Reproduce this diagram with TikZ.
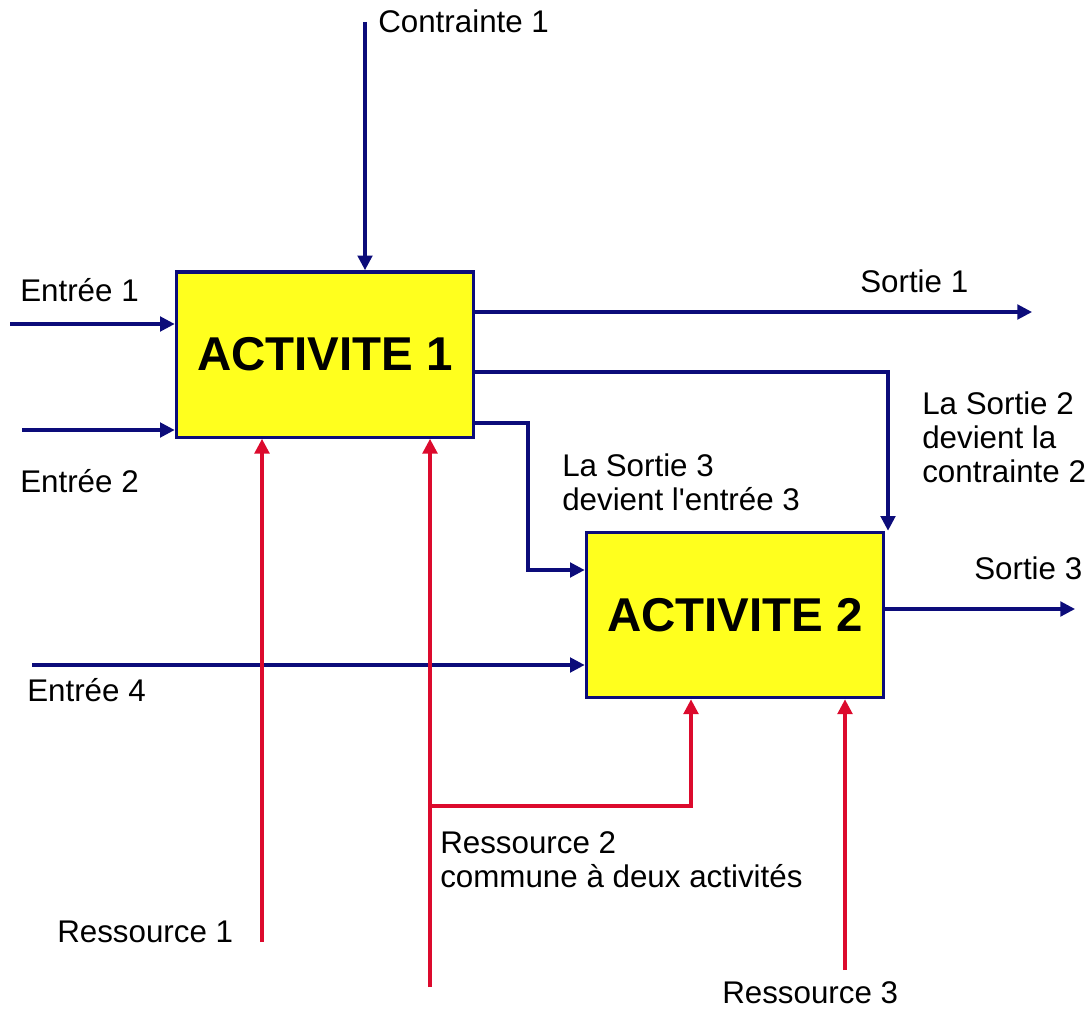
\documentclass[tikz,border=0pt]{standalone}
\usepackage{fontspec}
\setmainfont{Liberation Sans}
\usetikzlibrary{arrows.meta}
\definecolor{navyline}{RGB}{12,12,122}
\definecolor{resred}{RGB}{220,10,45}
\definecolor{actyellow}{RGB}{255,255,30}
\begin{document}
\begin{tikzpicture}[x=0.75pt,y=-0.75pt,
  activity/.style={draw=navyline,fill=actyellow,line width=2.5pt,
    minimum width=223pt,minimum height=124pt,inner sep=0pt,
    font=\fontsize{35.6}{40}\selectfont\bfseries},
  flow/.style={draw=navyline,line width=2.3pt,-{Triangle[length=11pt,width=11pt]}},
  res/.style={draw=resred,line width=2.3pt,-{Triangle[length=11pt,width=11pt]}},
  lbl/.style={inner sep=0pt,anchor=base west,font=\fontsize{23.5}{25.5}\selectfont},
  mlbl/.style={inner sep=0pt,anchor=north west,align=left,font=\fontsize{23.5}{25.5}\selectfont}
]
\useasboundingbox (0,0) rectangle (1091,1009);

% activity boxes
\node[activity] (box1) at (325,354.5) {ACTIVITE 1};
\node[activity] (box2) at (735,615) {ACTIVITE 2};

% control, inputs and outputs of activity 1
\coordinate (c1) at (365,22);
\draw[flow] (c1) -- (c1 |- box1.north);
\coordinate (e1) at (10,324);
\draw[flow] (e1) -- (e1 -| box1.west);
\coordinate (e2) at (22,430);
\draw[flow] (e2) -- (e2 -| box1.west);
\coordinate (s1) at (1032,312);
\draw[flow] (s1 -| box1.east) -- (s1);

% output 2 becomes control 2
\coordinate (s2) at (888,372);
\draw[flow] (s2 -| box1.east) -- (s2) -- (s2 |- box2.north);

% output 3 becomes input 3
\coordinate (s3) at (528,423);
\coordinate (s3b) at (528,570);
\draw[flow] (s3 -| box1.east) -- (s3) -- (s3b) -- (s3b -| box2.west);

% input 4 and output of activity 2
\coordinate (e4) at (32,665);
\draw[flow] (e4) -- (e4 -| box2.west);
\coordinate (s3o) at (1075,609);
\draw[flow] (s3o -| box2.east) -- (s3o);

% resources
\coordinate (r1) at (262,942);
\draw[res] (r1) -- (r1 |- box1.south);
\coordinate (r2) at (430,987);
\draw[res] (r2) -- (r2 |- box1.south);
\coordinate (r2j) at (430,806);
\coordinate (r2k) at (691,806);
\draw[res] (r2j) -- (r2k) -- (r2k |- box2.south);
\coordinate (r3) at (845,970);
\draw[res] (r3) -- (r3 |- box2.south);

% labels
\node[lbl] (lc1) at (378,33) {Contrainte 1};
\node[lbl] (le1) at (20,301) {Entrée 1};
\node[lbl] (le2) at (20,492) {Entrée 2};
\node[lbl] (le4) at (27,701) {Entrée 4};
\node[lbl] (ls1) at (860,292) {Sortie 1};
\node[lbl] (ls3o) at (974,579) {Sortie 3};
\node[mlbl] (ls2) at (922,392) {La Sortie 2\\devient la\\contrainte 2};
\node[mlbl] (ls3) at (562,454) {La Sortie 3\\devient l\textquotesingle entrée 3};
\node[lbl] (lr1) at (57,942) {Ressource 1};
\node[mlbl] (lr2) at (440,831) {Ressource 2\\commune à deux activités};
\node[lbl] (lr3) at (722,1003) {Ressource 3};
\end{tikzpicture}
\end{document}
